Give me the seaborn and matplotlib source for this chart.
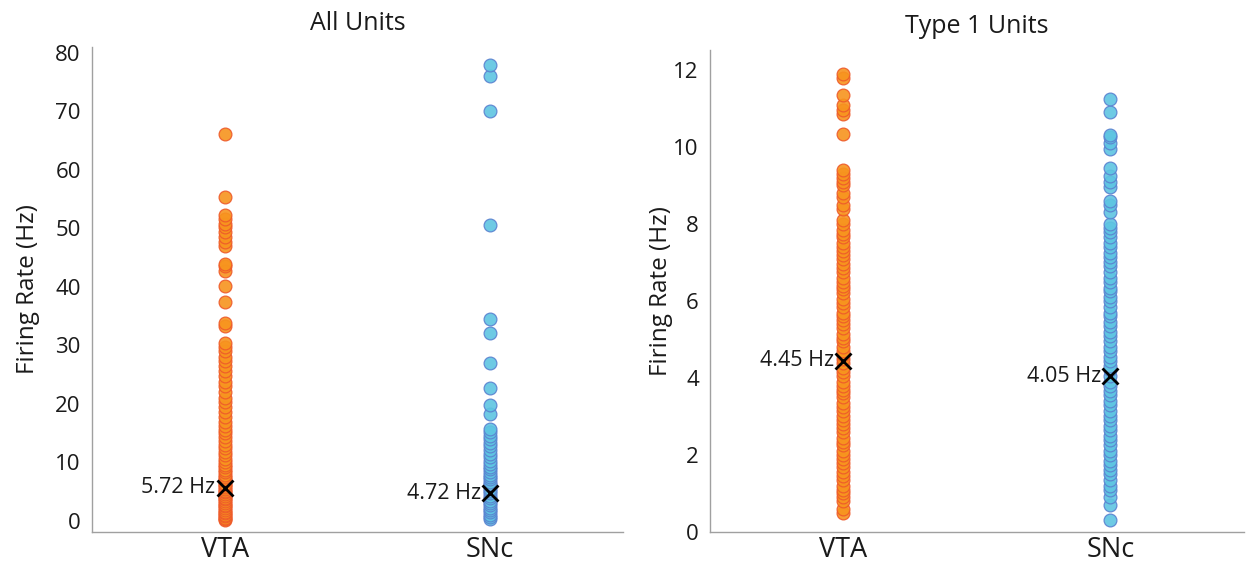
import matplotlib
matplotlib.use("Agg")
import matplotlib.pyplot as plt
import seaborn as sns
import pandas as pd

# Firing rates (Hz) per recorded unit
vta_all = [0.1, 0.3, 0.5, 0.8, 1.0, 1.3, 1.6, 1.9, 2.2, 2.5, 2.8, 3.1, 3.4, 3.7, 4.0,
           4.3, 4.6, 4.9, 5.2, 5.5, 5.8, 6.1, 6.4, 6.8, 7.1, 7.5, 7.9, 8.3, 8.7, 9.2,
           9.6, 10.1, 10.6, 11.2, 11.8, 12.4, 13.0, 13.6, 14.3, 15.0, 15.6, 16.3, 17.0,
           17.8, 18.6, 19.4, 20.3, 21.1, 22.0, 23.0, 23.8, 24.7, 25.6, 26.4, 27.3, 28.1,
           29.0, 29.8, 30.5, 33.4, 33.8, 37.4, 40.1, 42.8, 43.5, 44.0, 47.0, 47.6, 48.5,
           49.4, 50.2, 50.8, 51.6, 52.3, 55.3, 66.2]
snc_all = [0.3, 0.7, 1.1, 1.5, 1.9, 2.3, 2.7, 3.1, 3.5, 3.9, 4.3, 4.7, 5.1, 5.5, 5.9,
           6.3, 6.7, 7.1, 7.5, 7.9, 8.3, 8.8, 9.3, 9.8, 10.3, 10.9, 11.5, 12.1, 12.8,
           13.4, 14.0, 14.6, 15.2, 15.7, 18.3, 19.8, 22.8, 27.0, 32.1, 34.5, 50.5, 70.0,
           76.0, 78.0]
vta_type1 = [0.5, 0.6, 0.8, 0.9, 1.0, 1.1, 1.2, 1.35, 1.45, 1.55, 1.7, 1.8, 1.9, 2.0,
             2.1, 2.25, 2.35, 2.45, 2.6, 2.7, 2.8, 2.9, 3.0, 3.15, 3.25, 3.35, 3.5, 3.6,
             3.7, 3.8, 3.9, 4.05, 4.15, 4.25, 4.4, 4.5, 4.6, 4.7, 4.8, 4.95, 5.05, 5.15,
             5.3, 5.4, 5.5, 5.6, 5.7, 5.85, 5.95, 6.05, 6.2, 6.3, 6.4, 6.5, 6.6, 6.75,
             6.85, 6.95, 7.1, 7.2, 7.3, 7.4, 7.5, 7.65, 7.75, 7.85, 8.0, 8.1, 8.4, 8.5,
             8.7, 8.8, 9.0, 9.1, 9.2, 9.3, 9.4, 10.35, 10.85, 10.95, 11.1, 11.35, 11.8,
             11.9]
snc_type1 = [0.3, 0.7, 0.9, 1.1, 1.2, 1.35, 1.5, 1.6, 1.75, 1.85, 2.0, 2.1, 2.25, 2.4,
             2.5, 2.65, 2.75, 2.9, 3.0, 3.15, 3.3, 3.4, 3.55, 3.65, 3.8, 3.9, 4.05, 4.2,
             4.3, 4.45, 4.55, 4.7, 4.8, 4.95, 5.1, 5.2, 5.35, 5.45, 5.6, 5.7, 5.85, 6.0,
             6.1, 6.25, 6.35, 6.5, 6.6, 6.75, 6.9, 7.0, 7.15, 7.25, 7.4, 7.5, 7.65, 7.8,
             7.9, 8.0, 8.3, 8.5, 8.6, 8.95, 9.1, 9.25, 9.45, 9.95, 10.1, 10.25, 10.3,
             10.9, 11.25]

regions = ["VTA", "SNc"]
means_all = [5.72, 4.72]
means_type1 = [4.45, 4.05]

face = {"VTA": "#F7941E", "SNc": "#5EC5E2"}
edge = {"VTA": "#EE5A2A", "SNc": "#5A82D0"}

sns.set_theme(style="white")
plt.rcParams["font.family"] = ["Open Sans", "DejaVu Sans"]

fig = plt.figure(figsize=(12.51, 5.62), dpi=100)
ax1 = fig.add_axes([0.0735, 0.0534, 0.4245, 0.8630])
ax2 = fig.add_axes([0.5675, 0.0534, 0.4269, 0.8577])

TXT = "#1a1a1a"


def panel(ax, vta, snc, means, title, ylim, yticks, label_x):
    df = pd.DataFrame({
        "region": ["VTA"] * len(vta) + ["SNc"] * len(snc),
        "rate": vta + snc,
    })
    for r in regions:
        sub = df[df["region"] == r]
        sns.stripplot(data=sub, x="region", y="rate", order=regions, jitter=False,
                      size=9.2, color=face[r], edgecolor=edge[r], linewidth=0.9,
                      alpha=0.9, ax=ax, zorder=2)
    for i, m in enumerate(means):
        ax.plot(i, m, marker="x", color="black", markersize=12, mew=2, zorder=5)
        ax.text(i - 0.035, m, f"{m:.2f} Hz", ha="right", va="center",
                fontsize=15.5, color=TXT, zorder=5)
    ax.set_xlim(-0.5, 1.5)
    ax.set_ylim(*ylim)
    ax.set_yticks(yticks)
    ax.set_xlabel("")
    ax.set_ylabel("Firing Rate (Hz)", fontsize=17.5, color=TXT)
    ax.yaxis.set_label_coords(label_x, 0.5)
    ax.set_title(title, fontsize=18, color=TXT, pad=12)
    for s in ["top", "right"]:
        ax.spines[s].set_visible(False)
    for s in ["left", "bottom"]:
        ax.spines[s].set_color("#a0a0a0")
        ax.spines[s].set_linewidth(1.0)
    ax.tick_params(axis="both", direction="in", length=5, width=0.8,
                   color="#a0a0a0", labelcolor=TXT)
    ax.tick_params(axis="y", labelsize=16, pad=8)
    ax.tick_params(axis="x", labelsize=19.5, pad=3)


panel(ax1, vta_all, snc_all, means_all, "All Units", (-1.88, 81.0),
      [0, 10, 20, 30, 40, 50, 60, 70, 80], -0.098)
panel(ax2, vta_type1, snc_type1, means_type1, "Type 1 Units", (0, 12.52),
      [0, 2, 4, 6, 8, 10, 12], -0.069)

fig.savefig("out.png", dpi=100)
